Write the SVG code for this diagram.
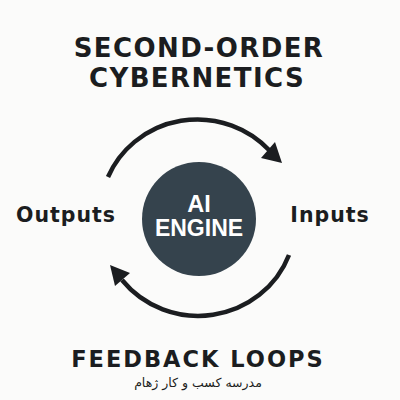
<svg xmlns="http://www.w3.org/2000/svg" width="400" height="400" viewBox="0 0 400 400">
<style>
.t{font-family:"DejaVu Sans","Liberation Sans",sans-serif;font-weight:bold;fill:#1b1d20;text-anchor:middle}
.w{font-family:"Liberation Sans",Arial,sans-serif;font-weight:bold;fill:#ffffff;text-anchor:middle}
.arc{fill:none;stroke:#1b1d20;stroke-width:4.5;stroke-linecap:butt}
.head{fill:#1b1d20}
</style>
<rect width="400" height="400" fill="#fbfbfa"/>
<g id="title">
<text class="t" x="199" y="57" font-size="26" letter-spacing="1.4">SECOND-ORDER</text>
<text class="t" x="197" y="87" font-size="26" letter-spacing="1.4">CYBERNETICS</text>
</g>
<g id="connectors">
<path class="arc" d="M108,177 A97 94 0 0 1 269,150"/>
<polygon class="head" points="282,163 261,158 275,142"/>
<path class="arc" d="M289,255 A97 94 0 0 1 122,280"/>
<polygon class="head" points="110,265 115,286 130,273"/>
</g>
<g id="engine">
<circle cx="199" cy="219" r="57" fill="#35434d"/>
<text class="w" x="199" y="212" font-size="23.5">AI</text>
<text class="w" x="199" y="236" font-size="23">ENGINE</text>
</g>
<g id="outputs">
<text class="t" x="66" y="222" font-size="20.5" letter-spacing="1">Outputs</text>
</g>
<g id="inputs">
<text class="t" x="330" y="222" font-size="20.5" letter-spacing="1">Inputs</text>
</g>
<g id="footer">
<text class="t" x="198" y="367" font-size="22.5" letter-spacing="2">FEEDBACK LOOPS</text>
<text x="198" y="387" font-size="12.5" text-anchor="middle" fill="#1b1d20" font-family="'DejaVu Sans','Noto Sans',sans-serif" direction="rtl">مدرسه کسب و کار ژهام</text>
</g>
</svg>
